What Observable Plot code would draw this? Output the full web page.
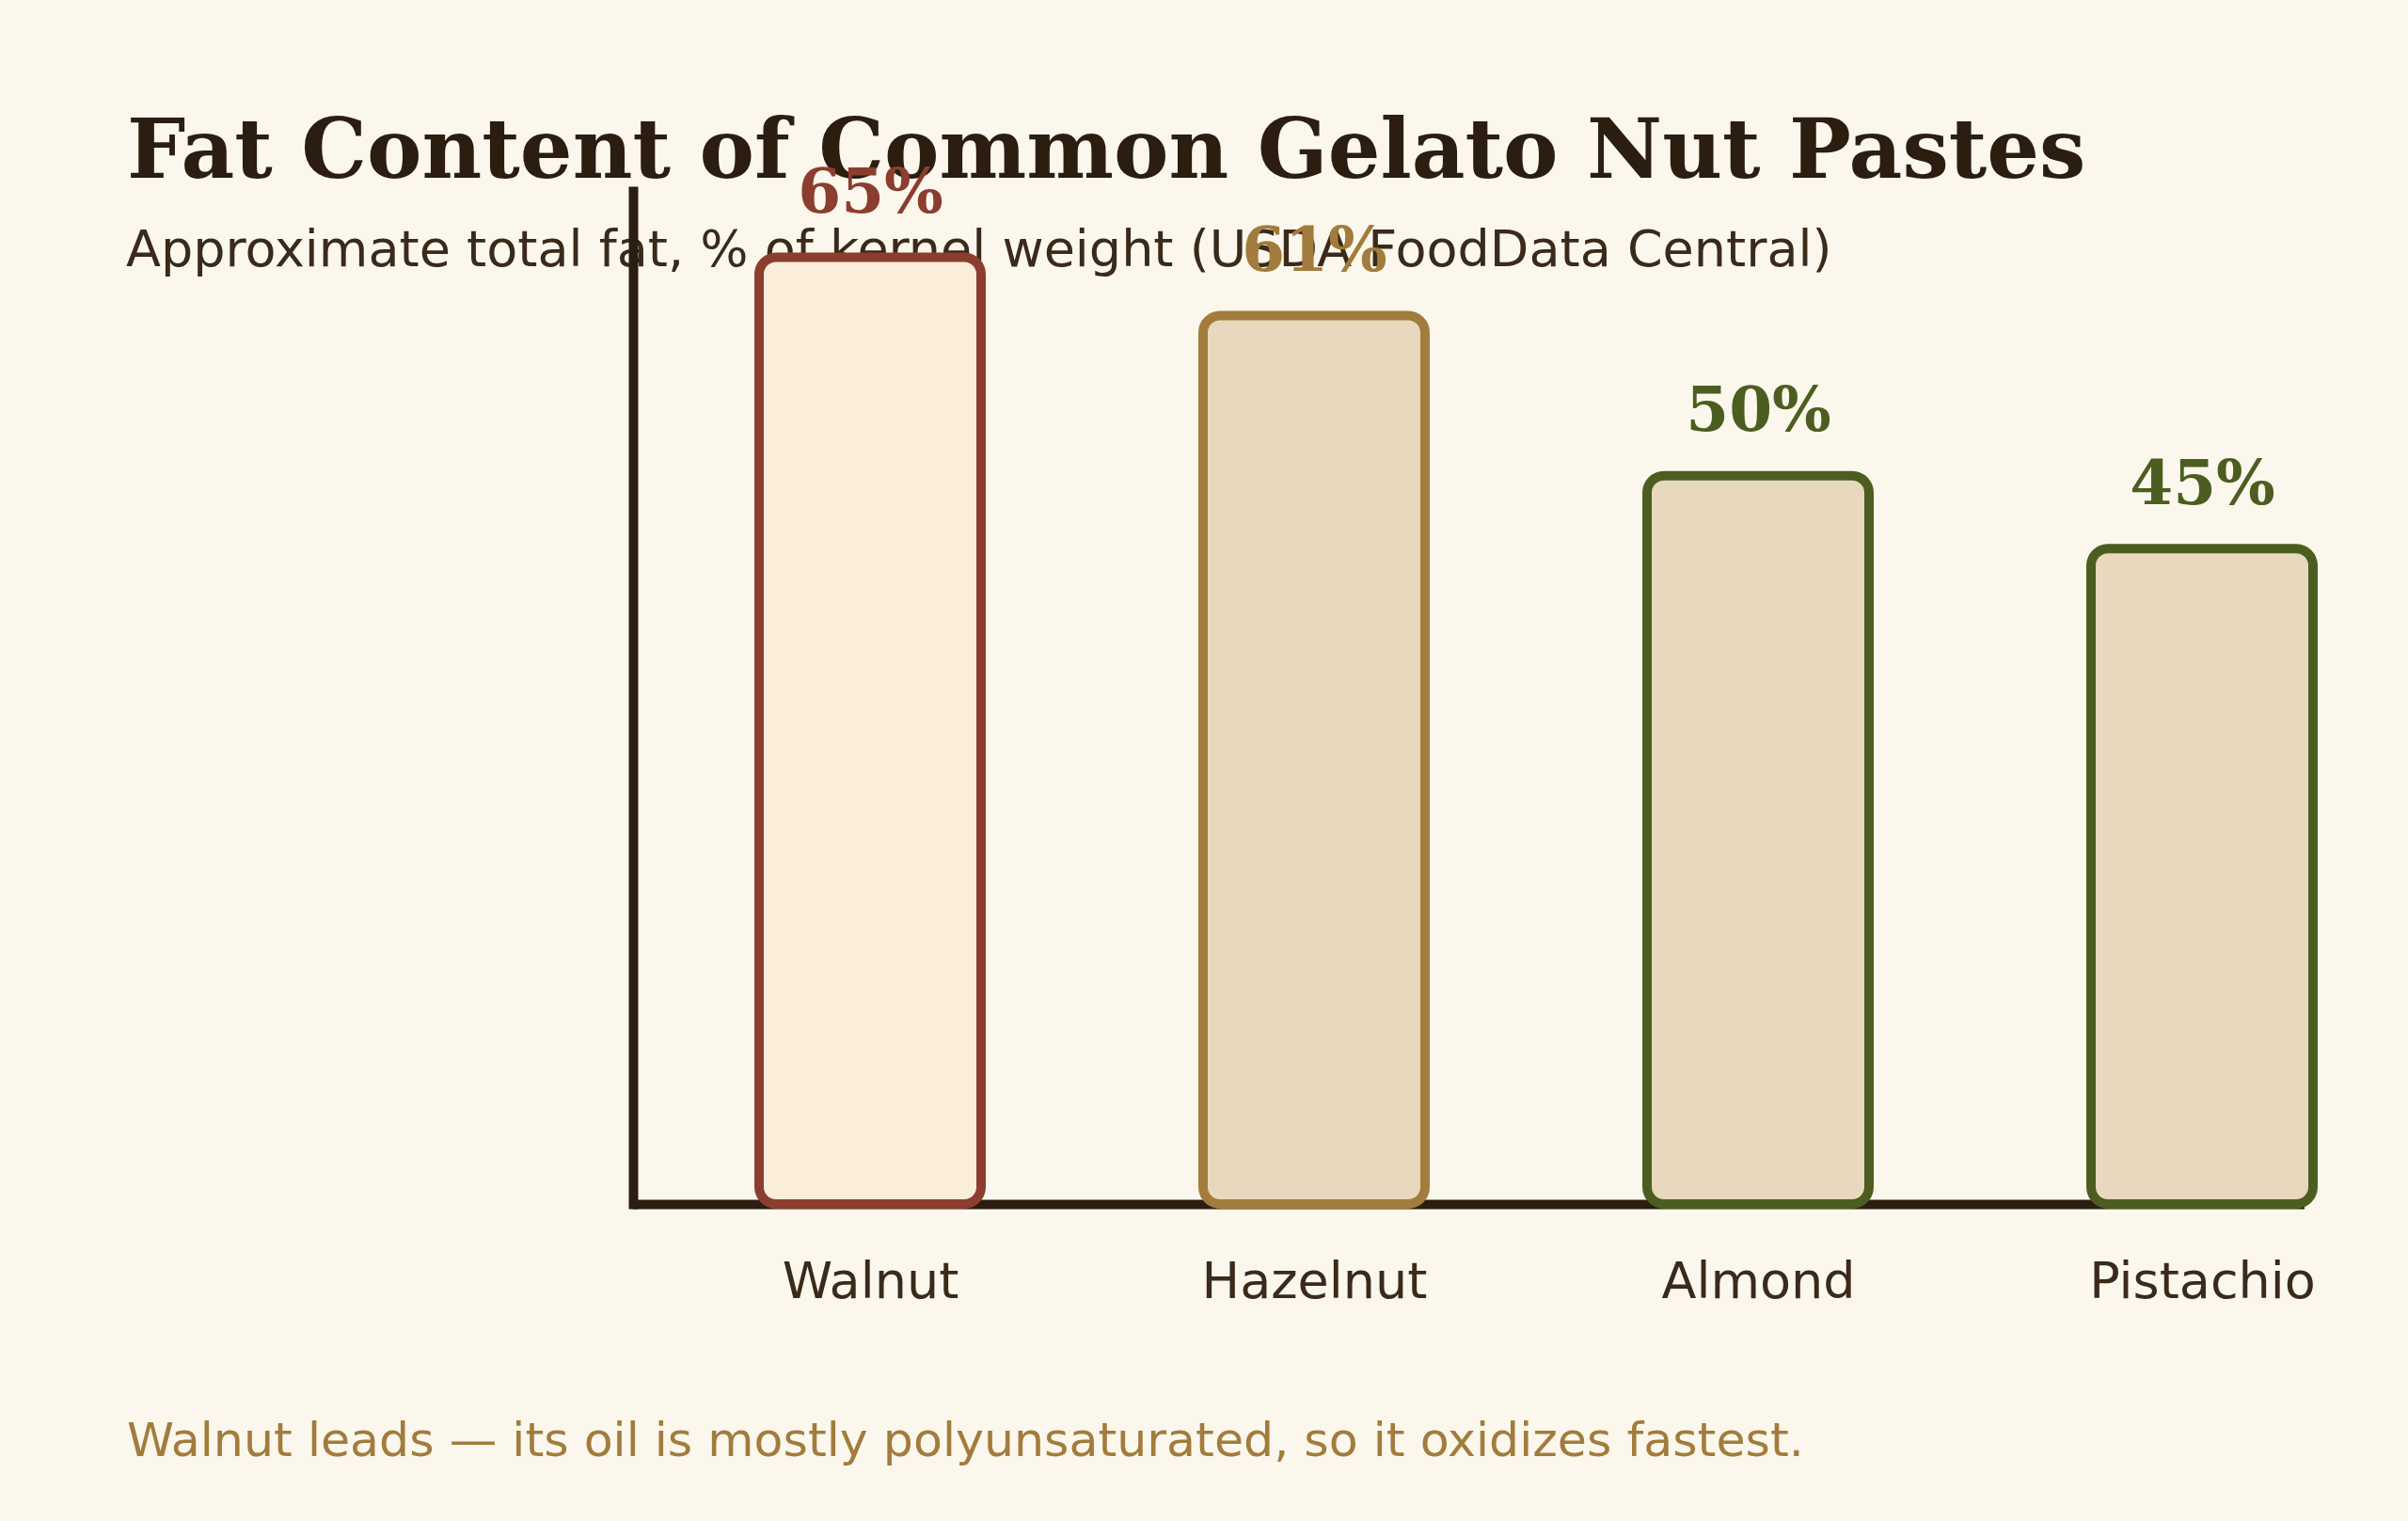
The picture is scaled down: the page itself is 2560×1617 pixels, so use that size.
<!DOCTYPE html>
<html>
<head>
<meta charset="utf-8">
<script src="https://cdn.jsdelivr.net/npm/d3@7"></script>
<script src="https://cdn.jsdelivr.net/npm/@observablehq/plot@0.6"></script>
<style>
  html, body { margin: 0; padding: 0; background: #fcf7ed; }
  #page { position: relative; width: 2560px; height: 1617px; background: #fcf7ed; overflow: hidden; }
  .hdr { position: absolute; left: 135px; white-space: nowrap; line-height: 1; }
  #title { top: 115px; font-family: "DejaVu Serif", serif; font-weight: bold; font-size: 87.7px; color: #2b1d10; }
  #subtitle { top: 238px; left: 134px; font-family: "DejaVu Sans", sans-serif; font-size: 54px; color: #3a2a1a; }
  #caption { top: 1506px; left: 135px; font-family: "DejaVu Sans", sans-serif; font-size: 50.6px; color: #a27c3c; }
  #chart { position: absolute; left: 0; top: 0; }
</style>
</head>
<body>
<div id="page">
  <div id="title" class="hdr">Fat Content of Common Gelato Nut Pastes</div>
  <div id="subtitle" class="hdr">Approximate total fat, % of kernel weight (USDA FoodData Central)</div>
  <div id="caption" class="hdr">Walnut leads — its oil is mostly polyunsaturated, so it oxidizes fastest.</div>
  <div id="chart"></div>
</div>
<script>
const nuts = ["Walnut", "Hazelnut", "Almond", "Pistachio"];
const fatPct = [65, 61, 50, 45];
const labels = ["65%", "61%", "50%", "45%"];
const strokeColors = ["#8b3e2f", "#a27c3c", "#4b5e20", "#4b5e20"];
const fillColors = ["#faeedb", "#e8d8be", "#e8d8be", "#e8d8be"];

const data = nuts.map((n, i) => ({nut: n, fat: fatPct[i], label: labels[i], stroke: strokeColors[i], fill: fillColors[i]}));
const ink = "#2b1d10";

const chart = Plot.plot({
  width: 2560,
  height: 1617,
  marginLeft: 673,
  marginRight: 110,
  marginTop: 203,
  marginBottom: 337,
  style: {background: "transparent", fontFamily: "DejaVu Sans, sans-serif", overflow: "visible"},
  x: {domain: nuts, range: [570.5, 2694.5], padding: 0.5, label: null, axis: null},
  y: {domain: [0, d3.max(fatPct) * 1.07], label: null, axis: null},
  marks: [
    Plot.ruleY([0], {stroke: ink, strokeWidth: 10}),
    Plot.frame({anchor: "left", stroke: ink, strokeWidth: 10}),
    Plot.barY(data, {x: "nut", y: "fat", fill: d => d.fill, stroke: d => d.stroke, strokeWidth: 10, rx: 18}),
    Plot.text(data, {x: "nut", y: "fat", text: "label", fill: d => d.stroke, lineAnchor: "bottom", dy: -48,
      fontFamily: "DejaVu Serif, serif", fontWeight: "bold", fontSize: 66}),
    Plot.axisX({tickSize: 0, tickPadding: 61, fontSize: 54, color: "#3a2a1a", label: null}),
  ]
});
document.getElementById("chart").appendChild(chart);
</script>
</body>
</html>
